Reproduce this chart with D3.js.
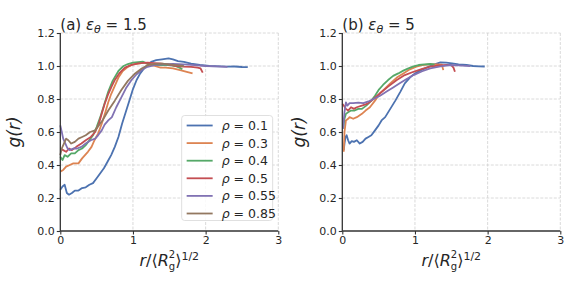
<!DOCTYPE html>
<html>
<head>
<meta charset="utf-8">
<title>g(r)</title>
<script src="https://d3js.org/d3.v7.min.js"></script>
<style>
  body { margin: 0; background: #fff; }
  svg { font-family: "DejaVu Sans", sans-serif; }
</style>
</head>
<body>
<div id="chart"></div>
<script>
// data: [r / <Rg^2>^1/2, g(r)]
const rhoLabels = ["0.1", "0.3", "0.4", "0.5", "0.55", "0.85"];
const colors = ["#4c72b0", "#dd8452", "#55a868", "#c44e52", "#8172b3", "#937860"];
const xTicks = [0, 1, 2, 3];
const yTicks = [0, 0.2, 0.4, 0.6, 0.8, 1.0, 1.2];

// panel (a) eps = 1.5
const a01 = [[0,0.25],[0.03,0.27],[0.06,0.28],[0.09,0.23],[0.12,0.22],[0.16,0.23],[0.2,0.245],[0.25,0.245],[0.3,0.26],[0.35,0.265],[0.4,0.28],[0.45,0.29],[0.5,0.32],[0.55,0.35],[0.6,0.38],[0.65,0.42],[0.7,0.46],[0.75,0.51],[0.8,0.57],[0.85,0.65],[0.9,0.72],[0.95,0.79],[1.0,0.86],[1.05,0.915],[1.1,0.955],[1.17,0.995],[1.25,1.025],[1.32,1.035],[1.4,1.04],[1.49,1.046],[1.55,1.04],[1.62,1.03],[1.7,1.025],[1.8,1.015],[1.92,1.006],[2.05,1.0],[2.2,0.998],[2.3,0.996],[2.4,0.997],[2.5,0.994],[2.58,0.993]];
const a03 = [[0,0.36],[0.04,0.37],[0.08,0.39],[0.13,0.40],[0.18,0.41],[0.25,0.41],[0.3,0.44],[0.34,0.46],[0.38,0.48],[0.43,0.51],[0.47,0.55],[0.52,0.59],[0.57,0.65],[0.62,0.72],[0.66,0.78],[0.7,0.83],[0.75,0.88],[0.8,0.93],[0.86,0.97],[0.93,0.995],[1.0,1.01],[1.08,1.015],[1.15,1.02],[1.22,1.01],[1.3,1.0],[1.38,0.99],[1.45,0.99],[1.55,0.985],[1.65,0.975],[1.74,0.965],[1.82,0.955]];
const a04 = [[0,0.45],[0.03,0.43],[0.06,0.46],[0.1,0.45],[0.15,0.47],[0.2,0.47],[0.25,0.49],[0.3,0.5],[0.35,0.52],[0.4,0.55],[0.45,0.58],[0.5,0.63],[0.55,0.69],[0.6,0.76],[0.66,0.845],[0.72,0.91],[0.8,0.97],[0.87,1.0],[0.93,1.012],[1.0,1.02],[1.07,1.024],[1.14,1.026],[1.2,1.015],[1.3,1.005],[1.4,1.005],[1.5,1.006],[1.58,1.0],[1.64,0.99],[1.68,0.98]];
const a05 = [[0,0.50],[0.04,0.49],[0.08,0.48],[0.12,0.5],[0.16,0.49],[0.22,0.51],[0.29,0.53],[0.35,0.55],[0.42,0.57],[0.48,0.6],[0.53,0.65],[0.57,0.71],[0.61,0.77],[0.66,0.83],[0.71,0.88],[0.75,0.915],[0.82,0.96],[0.89,0.99],[0.97,1.005],[1.07,1.016],[1.2,1.02],[1.3,1.018],[1.37,1.016],[1.48,1.01],[1.6,1.0],[1.69,0.996],[1.8,0.995],[1.89,0.99],[1.93,0.985],[1.96,0.96]];
const a055 = [[0,0.64],[0.02,0.6],[0.04,0.56],[0.07,0.53],[0.1,0.5],[0.13,0.49],[0.18,0.5],[0.23,0.5],[0.29,0.51],[0.35,0.53],[0.42,0.55],[0.48,0.56],[0.52,0.58],[0.57,0.61],[0.61,0.645],[0.66,0.67],[0.71,0.69],[0.77,0.75],[0.84,0.81],[0.91,0.87],[0.98,0.915],[1.05,0.95],[1.12,0.976],[1.2,0.995],[1.3,1.006],[1.4,1.01],[1.55,1.012],[1.7,1.01],[1.85,1.005],[2.0,1.0],[2.15,0.998],[2.3,0.995]];
const a085 = [[0,0.46],[0.02,0.5],[0.05,0.53],[0.08,0.56],[0.11,0.55],[0.15,0.53],[0.2,0.54],[0.25,0.56],[0.3,0.57],[0.35,0.58],[0.41,0.6],[0.48,0.61],[0.53,0.64],[0.58,0.67],[0.66,0.73],[0.75,0.79],[0.84,0.855],[0.93,0.91],[1.03,0.955],[1.12,0.985],[1.21,1.006],[1.3,1.012],[1.4,1.014],[1.5,1.01],[1.6,1.005],[1.7,1.0]];

// panel (b) eps = 5
const b01 = [[0.02,0.49],[0.03,0.53],[0.045,0.57],[0.06,0.58],[0.08,0.55],[0.1,0.53],[0.13,0.545],[0.16,0.54],[0.2,0.55],[0.24,0.53],[0.28,0.54],[0.32,0.56],[0.36,0.57],[0.4,0.58],[0.45,0.61],[0.5,0.64],[0.54,0.67],[0.59,0.69],[0.66,0.74],[0.73,0.79],[0.8,0.845],[0.86,0.895],[0.93,0.93],[1.0,0.955],[1.07,0.972],[1.14,0.986],[1.21,1.0],[1.28,1.012],[1.35,1.022],[1.43,1.02],[1.51,1.016],[1.6,1.01],[1.71,1.006],[1.8,1.0],[1.88,0.998],[1.96,0.997]];
const b03 = [[0.02,0.48],[0.03,0.6],[0.05,0.67],[0.08,0.68],[0.1,0.69],[0.15,0.68],[0.2,0.69],[0.27,0.71],[0.32,0.73],[0.38,0.75],[0.45,0.79],[0.52,0.835],[0.59,0.865],[0.66,0.895],[0.75,0.93],[0.84,0.955],[0.93,0.98],[1.02,0.996],[1.1,1.005],[1.21,1.01],[1.3,1.01],[1.37,1.008],[1.39,0.975]];
const b04 = [[0.01,0.62],[0.03,0.68],[0.05,0.71],[0.08,0.72],[0.12,0.73],[0.17,0.73],[0.22,0.74],[0.27,0.74],[0.33,0.76],[0.4,0.79],[0.45,0.82],[0.5,0.855],[0.56,0.885],[0.63,0.915],[0.7,0.94],[0.77,0.955],[0.84,0.972],[0.91,0.986],[0.98,0.998],[1.05,1.006],[1.13,1.01],[1.21,1.012],[1.27,1.01]];
const b05 = [[0,0.77],[0.02,0.76],[0.05,0.74],[0.08,0.73],[0.12,0.75],[0.16,0.74],[0.2,0.75],[0.27,0.76],[0.34,0.77],[0.43,0.8],[0.52,0.835],[0.63,0.875],[0.75,0.915],[0.86,0.945],[0.98,0.965],[1.1,0.982],[1.21,0.996],[1.33,1.003],[1.44,1.006],[1.5,1.005],[1.53,0.99],[1.55,0.965]];
const b055 = [[0.01,0.62],[0.03,0.72],[0.05,0.78],[0.07,0.76],[0.1,0.775],[0.15,0.775],[0.22,0.778],[0.29,0.775],[0.36,0.785],[0.43,0.8],[0.52,0.82],[0.61,0.845],[0.7,0.87],[0.79,0.895],[0.88,0.92],[0.98,0.945],[1.1,0.968],[1.21,0.986],[1.35,0.998],[1.48,1.006],[1.6,1.004],[1.7,1.001],[1.76,1.0]];

const seriesA = [a01, a03, a04, a05, a055, a085];
const seriesB = [b01, b03, b04, b05, b055];

const W = 581, H = 291;
const plotW = 218, plotH = 198, plotTop = 33;

const svg = d3.select("#chart").append("svg")
  .attr("width", W).attr("height", H);

function panel(left, series, title, eps, ylabX, legend) {
  const x = d3.scaleLinear().domain([0, 3]).range([0, plotW]);
  const y = d3.scaleLinear().domain([0, 1.2]).range([plotH, 0]);
  const g = svg.append("g").attr("transform", `translate(${left},${plotTop})`);

  // grid
  g.append("g").selectAll("line").data(xTicks.slice(1)).join("line")
    .attr("x1", d => x(d)).attr("x2", d => x(d)).attr("y1", 0).attr("y2", plotH)
    .attr("stroke", "#d0d0d0").attr("stroke-width", 0.8).attr("stroke-dasharray", "3,1.5");
  g.append("g").selectAll("line").data(yTicks.slice(1)).join("line")
    .attr("y1", d => y(d)).attr("y2", d => y(d)).attr("x1", 0).attr("x2", plotW)
    .attr("stroke", "#d0d0d0").attr("stroke-width", 0.8).attr("stroke-dasharray", "3,1.5");

  // lines
  const line = d3.line().x(d => x(d[0])).y(d => y(d[1]));
  series.forEach((s, i) => {
    g.append("path").datum(s)
      .attr("fill", "none").attr("stroke", colors[i])
      .attr("stroke-width", 1.8).attr("stroke-linejoin", "round")
      .attr("d", line);
  });

  // axes
  const xa = g.append("g").attr("transform", `translate(0,${plotH})`)
    .call(d3.axisBottom(x).tickValues(xTicks).tickFormat(d3.format("d")).tickSize(3.5).tickPadding(2));
  const ya = g.append("g")
    .call(d3.axisLeft(y).tickValues(yTicks).tickFormat(d3.format(".1f")).tickSize(3.5).tickPadding(2));
  [xa, ya].forEach(a => {
    a.select(".domain").attr("stroke", "#333").attr("stroke-width", 1.3);
    a.selectAll(".tick line").attr("stroke", "#333").attr("stroke-width", 1.1);
    a.selectAll(".tick text").attr("fill", "#262626")
      .style("font-family", "DejaVu Sans").style("font-size", "11px");
  });
  xa.select(".domain").attr("d", `M0,0H${plotW}`);
  ya.select(".domain").attr("d", `M0,${plotH}V0`);

  // title
  const t = g.append("text").attr("x", 0).attr("y", -3)
    .style("font-size", "15px").attr("fill", "#262626");
  t.append("tspan").text(title + " ");
  t.append("tspan").style("font-style", "italic").text("ε");
  t.append("tspan").style("font-style", "italic").style("font-size", "11px").attr("dy", 3).text("θ");
  t.append("tspan").attr("dy", -3).text(" = " + eps);

  // y label
  g.append("text")
    .attr("transform", `translate(${ylabX},${plotH / 2}) rotate(-90)`)
    .attr("text-anchor", "middle").attr("fill", "#262626")
    .style("font-size", "17px").style("font-style", "italic").text("g(r)");

  // x label
  const xl = g.append("text").attr("x", plotW / 2).attr("y", plotH + 35)
    .attr("text-anchor", "middle").attr("fill", "#262626").style("font-size", "16px");
  xl.append("tspan").style("font-style", "italic").text("r");
  xl.append("tspan").text("/⟨");
  xl.append("tspan").style("font-style", "italic").text("R");
  xl.append("tspan").style("font-size", "10px").attr("dy", -8).text("2");
  xl.append("tspan").style("font-size", "10px").attr("dx", -6.4).attr("dy", 12).text("g");
  xl.append("tspan").attr("dy", -4).text("⟩");
  xl.append("tspan").style("font-size", "11px").attr("dy", -6).text("1/2");

  if (legend) {
    const lg = g.append("g").attr("transform", `translate(${x(1.67)},${y(0.70)})`);
    lg.append("rect").attr("width", 91).attr("height", 105).attr("rx", 3)
      .attr("fill", "#fff").attr("fill-opacity", 0.85)
      .attr("stroke", "#d8d8d8").attr("stroke-width", 0.8);
    rhoLabels.forEach((r, i) => {
      const yy = 10 + i * 17.6;
      lg.append("line").attr("x1", 5).attr("x2", 31).attr("y1", yy).attr("y2", yy)
        .attr("stroke", colors[i]).attr("stroke-width", 1.8);
      const tx = lg.append("text").attr("x", 40).attr("y", yy + 4.5)
        .attr("fill", "#262626").style("font-size", "12.5px");
      tx.append("tspan").style("font-style", "italic").text("ρ");
      tx.append("tspan").text(" = " + r);
    });
  }
}

panel(60.3, seriesA, "(a)", "1.5", -40, true);
panel(342.3, seriesB, "(b)", "5", -37, false);
</script>
</body>
</html>
